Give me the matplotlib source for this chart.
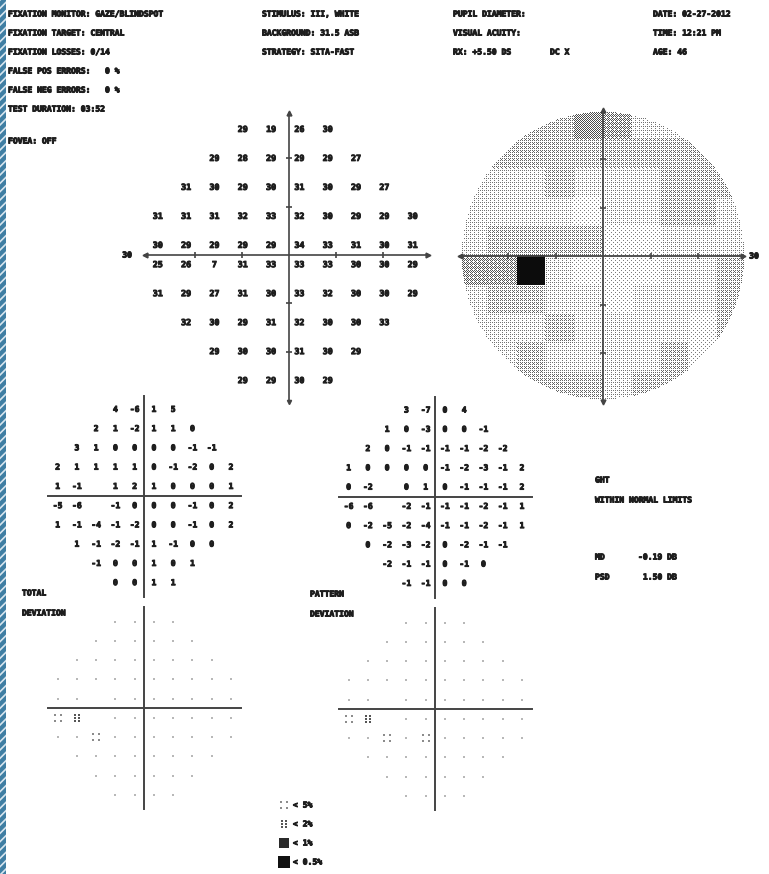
import numpy as np
import matplotlib
matplotlib.use("Agg")
import matplotlib.pyplot as plt
import matplotlib.patheffects as pe
from matplotlib.path import Path
from matplotlib.patches import Rectangle

# ---------------- data ----------------
row_counts = [4, 6, 8, 10, 10, 10, 10, 8, 6, 4]

threshold = [
    [29, 19, 26, 30],
    [29, 28, 29, 29, 29, 27],
    [31, 30, 29, 30, 31, 30, 29, 27],
    [31, 31, 31, 32, 33, 32, 30, 29, 29, 30],
    [30, 29, 29, 29, 29, 34, 33, 31, 30, 31],
    [25, 26, 7, 31, 33, 33, 33, 30, 30, 29],
    [31, 29, 27, 31, 30, 33, 32, 30, 30, 29],
    [32, 30, 29, 31, 32, 30, 30, 33],
    [29, 30, 30, 31, 30, 29],
    [29, 29, 30, 29],
]

total_dev = [
    [4, -6, 1, 5],
    [2, 1, -2, 1, 1, 0],
    [3, 1, 0, 0, 0, 0, -1, -1],
    [2, 1, 1, 1, 1, 0, -1, -2, 0, 2],
    [1, -1, None, 1, 2, 1, 0, 0, 0, 1],
    [-5, -6, None, -1, 0, 0, 0, -1, 0, 2],
    [1, -1, -4, -1, -2, 0, 0, -1, 0, 2],
    [1, -1, -2, -1, 1, -1, 0, 0],
    [-1, 0, 0, 1, 0, 1],
    [0, 0, 1, 1],
]

pattern_dev = [
    [3, -7, 0, 4],
    [1, 0, -3, 0, 0, -1],
    [2, 0, -1, -1, -1, -1, -2, -2],
    [1, 0, 0, 0, 0, -1, -2, -3, -1, 2],
    [0, -2, None, 0, 1, 0, -1, -1, -1, 2],
    [-6, -6, None, -2, -1, -1, -1, -2, -1, 1],
    [0, -2, -5, -2, -4, -1, -1, -2, -1, 1],
    [0, -2, -3, -2, 0, -2, -1, -1],
    [-2, -1, -1, 0, -1, 0],
    [-1, -1, 0, 0],
]

# probability codes: 0 normal, 1 <5%, 2 <2%, 3 <1%, 4 <0.5%, None = blind spot
total_prob = [
    [0, 0, 0, 0],
    [0, 0, 0, 0, 0, 0],
    [0, 0, 0, 0, 0, 0, 0, 0],
    [0, 0, 0, 0, 0, 0, 0, 0, 0, 0],
    [0, 0, None, 0, 0, 0, 0, 0, 0, 0],
    [1, 2, None, 0, 0, 0, 0, 0, 0, 0],
    [0, 0, 1, 0, 0, 0, 0, 0, 0, 0],
    [0, 0, 0, 0, 0, 0, 0, 0],
    [0, 0, 0, 0, 0, 0],
    [0, 0, 0, 0],
]

pattern_prob = [
    [0, 0, 0, 0],
    [0, 0, 0, 0, 0, 0],
    [0, 0, 0, 0, 0, 0, 0, 0],
    [0, 0, 0, 0, 0, 0, 0, 0, 0, 0],
    [0, 0, None, 0, 0, 0, 0, 0, 0, 0],
    [1, 2, None, 0, 0, 0, 0, 0, 0, 0],
    [0, 0, 1, 0, 1, 0, 0, 0, 0, 0],
    [0, 0, 0, 0, 0, 0, 0, 0],
    [0, 0, 0, 0, 0, 0],
    [0, 0, 0, 0],
]

legend_labels = ["< 5%", "< 2%", "< 1%", "< 0.5%"]

header_col1 = ["FIXATION MONITOR: GAZE/BLINDSPOT", "FIXATION TARGET: CENTRAL",
               "FIXATION LOSSES: 0/14", "FALSE POS ERRORS:   0 %",
               "FALSE NEG ERRORS:   0 %", "TEST DURATION: 03:52"]
header_fovea = "FOVEA: OFF"
header_col2 = ["STIMULUS: III, WHITE", "BACKGROUND: 31.5 ASB", "STRATEGY: SITA-FAST"]
header_col3 = ["PUPIL DIAMETER:", "VISUAL ACUITY:", "RX: +5.50 DS"]
header_col3b = "DC X"
header_col4 = ["DATE: 02-27-2012", "TIME: 12:21 PM", "AGE: 46"]
ght_title = "GHT"
ght_result = "WITHIN NORMAL LIMITS"
indices = [("MD", "-0.19 DB"), ("PSD", "1.50 DB")]

# ---------------- figure ----------------
W, H = 769, 874
fig = plt.figure(figsize=(W / 100, H / 100), dpi=100)
fig.patch.set_facecolor("white")

FONT = "DejaVu Sans Mono"
TXT = "#1e1e1e"
LINE = "#444444"
FS = 5.8
THICK = [pe.withStroke(linewidth=0.7, foreground=TXT)]


def px_axes(cx, cy, sx, sy, hx, hy, z=1):
    left = (cx - hx * sx) / W
    bottom = 1 - (cy + hy * sy) / H
    ax = fig.add_axes([left, bottom, 2 * hx * sx / W, 2 * hy * sy / H], zorder=z)
    ax.set_xlim(-hx, hx)
    ax.set_ylim(-hy, hy)
    ax.axis("off")
    return ax


def grid_positions(values):
    for r, row in enumerate(values):
        start = (10 - len(row)) // 2
        for j, v in enumerate(row):
            yield -27 + 6 * (start + j), 27 - 6 * r, v


# left blue hatched border
plt.rcParams["hatch.linewidth"] = 1.2
plt.rcParams["hatch.color"] = "#d8e6ef"
fig.patches.append(Rectangle((0, 0), 6 / W, 1, transform=fig.transFigure,
                             facecolor="#3f7ea3", edgecolor="#d8e6ef",
                             hatch="////", linewidth=0, zorder=0))

# ---------------- header ----------------
def ftext(x, y, s, ha="left"):
    fig.text(x / W, 1 - y / H, s, fontsize=FS, family=FONT, weight="bold",
             color=TXT, va="center", ha=ha, path_effects=THICK)

for i, s in enumerate(header_col1):
    ftext(8, 14 + 19 * i, s)
ftext(8, 141, header_fovea)
for i, s in enumerate(header_col2):
    ftext(262, 14 + 19 * i, s)
for i, s in enumerate(header_col3):
    ftext(453, 14 + 19 * i, s)
ftext(550, 52, header_col3b)
for i, s in enumerate(header_col4):
    ftext(653, 14 + 19 * i, s)

# ---------------- threshold numeric plot ----------------
ax_t = px_axes(289, 255, 4.72, 4.83, 33, 33)
ax_t.plot([-30.5, 29.5], [0, 0], color=LINE, lw=1.2)
ax_t.plot([0, 0], [-30.5, 29.5], color=LINE, lw=1.2)
ax_t.plot([-30.5], [0], marker="<", color=LINE, ms=3.5)
ax_t.plot([29.5], [0], marker=">", color=LINE, ms=3.5)
ax_t.plot([0], [29.5], marker="^", color=LINE, ms=3.5)
ax_t.plot([0], [-30.5], marker="v", color=LINE, ms=3)
for t in (-20, -10, 10, 20):
    ax_t.plot([t], [0], marker="|", color=LINE, ms=4, mew=1.2)
    ax_t.plot([0], [t], marker="_", color=LINE, ms=4, mew=1.2)
ax_t.text(-34.3, 0, "30", fontsize=FS, family=FONT, weight="bold", color=TXT,
          ha="center", va="center", path_effects=THICK)
for x, y, v in grid_positions(threshold):
    ax_t.text(x - 0.8, y - np.sign(y) * 1.0, str(v), fontsize=6.0, family=FONT,
              weight="bold", color=TXT, ha="center", va="center", path_effects=THICK)

# ---------------- greyscale plot ----------------
ax_g = px_axes(603, 256, 4.75, 4.85, 32, 32)
full = np.full((10, 10), np.nan)
for r, row in enumerate(threshold):
    start = (10 - len(row)) // 2
    full[r, start:start + len(row)] = row
known = np.argwhere(~np.isnan(full))
for r, c in np.argwhere(np.isnan(full)):
    d = np.hypot(known[:, 0] - r, known[:, 1] - c)
    k = known[np.argmin(d)]
    full[r, c] = full[k[0], k[1]]

Nx, Ny = 285, 291
xs = -30 + (np.arange(Nx) + 0.5) * 60 / Nx
ys = 30 - (np.arange(Ny) + 0.5) * 60 / Ny
XX, YY = np.meshgrid(xs, ys)
ci = np.clip(((XX + 30) // 6).astype(int), 0, 9)
ri = np.clip(((30 - YY) // 6).astype(int), 0, 9)
vals = full[ri, ci]
edges = np.array([33, 30, 27, 22, 17, 12, 8])
dens_levels = np.array([2, 3, 5, 7, 8, 10, 13, 16])
lvl = np.sum(vals[..., None] < edges, axis=-1)
dens = dens_levels[lvl]
bayer = np.array([[0, 8, 2, 10], [12, 4, 14, 6], [3, 11, 1, 9], [15, 7, 13, 5]])
II, JJ = np.meshgrid(np.arange(Nx), np.arange(Ny))
on = bayer[JJ % 4, II % 4] < dens
img = 1 - on * (0.45 + 0.5 * dens / 16)
img[np.hypot(XX, YY) > 29.6] = 1.0
ax_g.imshow(img, cmap="gray", vmin=0, vmax=1, extent=[-30, 30, -30, 30],
            interpolation="nearest", aspect="auto")
ax_g.plot([-30, 29.5], [0, 0], color=LINE, lw=1.3)
ax_g.plot([0, 0], [-30, 30], color=LINE, lw=1.3)
ax_g.plot([-30], [0], marker="<", color=LINE, ms=3.5)
ax_g.plot([29.5], [0], marker=">", color=LINE, ms=3.5)
ax_g.plot([0], [30], marker="^", color=LINE, ms=3.5)
ax_g.plot([0], [-30], marker="v", color=LINE, ms=3.5)
for t in (-20, -10, 10, 20):
    ax_g.plot([t], [0], marker="|", color=LINE, ms=4, mew=1.2)
    ax_g.plot([0], [t], marker="_", color=LINE, ms=4, mew=1.2)
ax_g.text(31.8, 0, "30", fontsize=FS, family=FONT, weight="bold", color=TXT,
          ha="center", va="center", path_effects=THICK)

# ---------------- deviation numeric plots ----------------
S = 3.21
def numeric_plot(cx, cy, values):
    ax = px_axes(cx, cy, S, S, 33, 33)
    ax.plot([-30, 30], [0, 0], color=LINE, lw=1.4)
    ax.plot([0, 0], [-31.5, 31], color=LINE, lw=1.4)
    for x, y, v in grid_positions(values):
        if v is None:
            continue
        ax.text(x, y, str(v), fontsize=5.8, family=FONT, weight="bold",
                color=TXT, ha="center", va="center", path_effects=THICK)
    return ax

numeric_plot(144.3, 496, total_dev)
numeric_plot(435.3, 496.7, pattern_dev)

# ---------------- probability symbols ----------------
def squares_path(centers, half):
    verts, codes = [], []
    for cx, cy in centers:
        verts += [(cx - half, cy - half), (cx + half, cy - half),
                  (cx + half, cy + half), (cx - half, cy + half), (cx - half, cy - half)]
        codes += [Path.MOVETO, Path.LINETO, Path.LINETO, Path.LINETO, Path.CLOSEPOLY]
    return Path(verts, codes)

sym_5 = squares_path([(-0.5, -0.5), (0.5, -0.5), (-0.5, 0.5), (0.5, 0.5)], 0.2)
sym_2 = squares_path([(sx, sy) for sx in (-0.5, 0.5) for sy in (-0.7, 0.0, 0.7)], 0.25)
sym_1 = squares_path([(sx, sy) for sx in (-0.5, 0.5) for sy in (-0.5, 0.5)], 0.42)
sym_05 = squares_path([(0, 0)], 1.0)
SYM = {1: (sym_5, 5.5, "#8c8c8c"), 2: (sym_2, 6.0, "#555555"),
       3: (sym_1, 6.5, "#2a2a2a"), 4: (sym_05, 7.5, "#111111")}


def prob_plot(cx, cy, codes):
    ax = px_axes(cx, cy, S, S, 33, 33)
    ax.plot([-30, 30], [0, 0], color=LINE, lw=1.4)
    ax.plot([0, 0], [-31.5, 31.5], color=LINE, lw=1.4)
    for x, y, c in grid_positions(codes):
        if c is None:
            continue
        if c == 0:
            ax.plot([x], [y], marker="s", ms=1.6, color="#b8b8b8", mew=0)
        else:
            m, ms, col = SYM[c]
            ax.plot([x], [y], marker=m, ms=ms, color=col, mew=0)
    return ax

prob_plot(144.3, 708.3, total_prob)
prob_plot(435.3, 709.3, pattern_prob)

ftext(22, 593, "TOTAL")
ftext(22, 613, "DEVIATION")
ftext(310, 594, "PATTERN")
ftext(310, 614, "DEVIATION")

# ---------------- GHT / indices ----------------
ftext(595, 480, ght_title)
ftext(595, 500, ght_result)
for i, (k, v) in enumerate(indices):
    ftext(595, 557 + 20 * i, k)
    ftext(677, 557 + 20 * i, v, ha="right")

# ---------------- legend ----------------
ax_l = fig.add_axes([0, 0, 1, 1], zorder=0)
ax_l.set_xlim(0, W)
ax_l.set_ylim(H, 0)
ax_l.axis("off")
for i, lab in enumerate(legend_labels):
    yy = 805 + 19 * i
    m, ms, col = SYM[i + 1]
    ax_l.plot([284], [yy], marker=m, ms=ms + (1.5 if i == 3 else 0), color=col, mew=0)
    ax_l.text(293, yy, lab, fontsize=FS, family=FONT, weight="bold", color=TXT,
              ha="left", va="center", path_effects=THICK)

fig.savefig("out.png", dpi=100, facecolor="white")
